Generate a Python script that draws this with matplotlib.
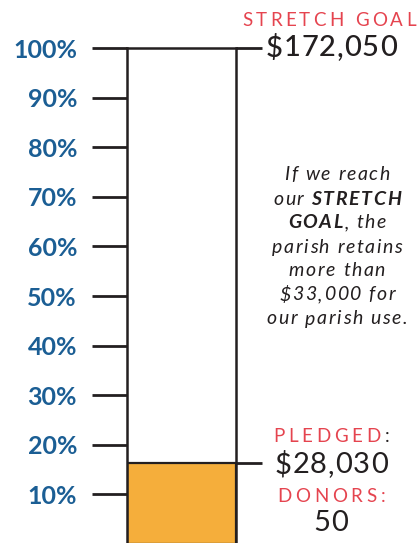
import matplotlib
import matplotlib.pyplot as plt

matplotlib.use("Agg")

# campaign numbers
goal = 172050
pledged = 28030
donors = 50
tick_pcts = [0, 10, 20, 30, 40, 50, 60, 70, 80, 90, 100]
tick_labels = ["", "10%", "20%", "30%", "40%", "50%", "60%", "70%", "80%", "90%", "100%"]

note_lines = [
    [("If we reach", "normal")],
    [("our ", "normal"), ("STRETCH", "bold")],
    [("GOAL", "bold"), (", the", "normal")],
    [("parish retains", "normal")],
    [("more than", "normal")],
    [("$33,000 for", "normal")],
    [("our parish use.", "normal")],
]

BLUE = "#1b5e94"
RED = "#e5444f"
DARK = "#231f20"
ORANGE = "#f5ae3b"
FONT = "Lato"

W, H = 419, 543
fig = plt.figure(figsize=(W / 100, H / 100), dpi=100)
renderer = fig.canvas.get_renderer()


def fx(x):
    return x / W


def fy(y):
    return 1 - y / H


def text_width(s, **kw):
    t = fig.text(0, 0, s, **kw)
    w = t.get_window_extent(renderer).width
    t.remove()
    return w


def tracked(xc, y, segments, track, size, style="normal"):
    """Draw letter-spaced text centred on xc (pixels); segments = [(text, weight, colour)]."""
    chars = []
    for txt, weight, colour in segments:
        kw = dict(fontsize=size, family=FONT, fontweight=weight, style=style)
        space = text_width("x x", **kw) - text_width("xx", **kw)
        for ch in txt:
            w = space if ch == " " else text_width(ch, **kw)
            chars.append((ch, w, kw, colour))
    total = sum(c[1] for c in chars) + track * (len(chars) - 1)
    x = xc - total / 2
    for ch, w, kw, colour in chars:
        if ch != " ":
            fig.text(fx(x), fy(y), ch, color=colour, ha="left", va="center", **kw)
        x += w + track


# the thermometer tube: 0% sits at the bottom edge, 100% at y=48 px
ax = fig.add_axes([fx(127), fy(544), fx(236) - fx(127), (544 - 48) / H])
pct = pledged / goal * 100
ax.bar(0.5, pct, width=1.0, color=ORANGE, edgecolor=DARK, linewidth=1.6, zorder=2)
ax.set_xlim(0, 1)
ax.set_ylim(0, 100)
ax.set_xticks([])
ax.set_yticks(tick_pcts)
ax.set_yticklabels(tick_labels, color=BLUE, fontsize=18, fontweight="bold", family=FONT)
ax.tick_params(axis="y", length=25, width=2.0, color=DARK, pad=11)
for side in ["left", "right", "top"]:
    ax.spines[side].set_linewidth(1.8)
    ax.spines[side].set_color(DARK)
ax.spines["bottom"].set_visible(False)

# leader lines to the right-hand labels
ext = (262 - 236) / (236 - 127)
ax.hlines([100, pct], 1, 1 + ext, color=DARK, linewidth=2.0, clip_on=False)

cx = 331
tracked(329, 20, [("STRETCH GOAL", "normal", RED)], 3.3, 13.5)
tracked(cx, 48, [(f"${goal:,}", "medium", DARK)], 0.9, 21)
tracked(cx, 436, [("PLEDGED", "normal", RED), (":", "normal", DARK)], 3.8, 13.5)
tracked(cx, 465, [(f"${pledged:,}", "normal", DARK)], 0.9, 21)
tracked(cx, 497, [("DONORS:", "normal", RED)], 3.8, 13.5)
tracked(cx, 523, [(str(donors), "normal", DARK)], 0.9, 21)

# italic note, letter-spaced and centred line by line
for i, line in enumerate(note_lines):
    tracked(337, 175 + i * 24, [(t, w, DARK) for t, w in line], 1.6, 14, style="italic")

fig.savefig("out.png", dpi=100)
plt.close(fig)
